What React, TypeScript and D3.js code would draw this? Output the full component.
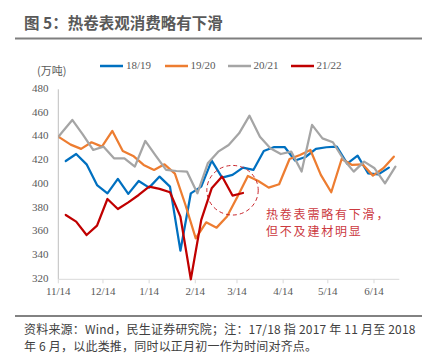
import React from "react";
import * as d3 from "d3";

const seriesNames = ["18/19", "19/20", "20/21", "21/22"];
const seriesColors = ["#0070c0", "#ed7d31", "#a5a5a5", "#c00000"];
// start offset (days after 11/14) of each series' first weekly point
const seriesStartDays = [5, -5.7, -4.6, 5];

const values1819 = [419.6, 425.5, 416.8, 399.4, 392.4, 404.5, 391.9, 402.8, 397.2, 406.5, 398.0, 344.1, 392.4, 398.0, 419.9, 405.6, 407.9, 414.0, 412.1, 428.1, 431.4, 431.4, 420.0, 423.0, 429.8, 431.2, 431.7, 417.4, 424.1, 409.3, 408.4, 414.0];
const values1920 = [445.9, 439.1, 433.4, 429.8, 435.4, 431.7, 444.9, 428.1, 423.9, 416.3, 412.1, 416.8, 409.0, 383.0, 354.5, 368.0, 363.5, 372.8, 389.6, 407.0, 402.8, 397.2, 400.0, 421.3, 424.7, 428.9, 407.9, 393.3, 421.3, 416.3, 416.8, 407.3, 413.5, 423.3];
const values2021 = [433.1, 443.6, 454.2, 442.1, 428.9, 431.7, 421.9, 421.9, 414.9, 436.5, 424.1, 412.1, 411.2, 410.7, 392.4, 417.7, 427.5, 433.1, 442.9, 457.8, 440.1, 430.3, 425.5, 427.5, 410.7, 450.0, 438.7, 435.4, 421.3, 410.7, 419.1, 413.5, 400.8, 414.9];
const values2122 = [374.2, 368.6, 357.3, 365.2, 387.6, 379.2, 384.8, 391.0, 398.0, 396.1, 393.3, 372.8, 320.0, 370.0, 396.6, 406.5, 390.5, 392.7];
const seriesValues = [values1819, values1920, values2021, values2122];

const yTicks = [320, 340, 360, 380, 400, 420, 440, 460, 480];
const xTickLabels = ["11/14", "12/14", "1/14", "2/14", "3/14", "4/14", "5/14", "6/14"];
const xTickDates = ["2021-11-14", "2021-12-14", "2022-01-14", "2022-02-14", "2022-03-14", "2022-04-14", "2022-05-14", "2022-06-14"];

const titleText = "图 5：热卷表观消费略有下滑";
const unitText = "(万吨)";
const noteLines = ["热卷表需略有下滑，", "但不及建材明显"];
const noteCenter = { day: 117, value: 395 };
const sourceLines = [
  "资料来源：Wind，民生证券研究院；注：17/18 指 2017 年 11 月至 2018",
  "年 6 月，以此类推，同时以正月初一作为时间对齐点。",
];

const baseDate = new Date(Date.UTC(2021, 10, 14));
const endDate = new Date(Date.UTC(2022, 6, 1));
const dayMs = 864e5;

export default function App() {
  const left = 58.3, right = 399.3, top = 89.3, bottom = 279.3;
  const x = d3.scaleUtc().domain([baseDate, endDate]).range([left, right]);
  const y = d3.scaleLinear().domain([320, 480]).range([bottom, top]);
  const dayToDate = (d: number) => new Date(baseDate.getTime() + d * dayMs);

  const line = d3
    .line<[number, number]>()
    .x((p) => x(dayToDate(p[0])))
    .y((p) => y(p[1]));

  const serif = "'Liberation Serif', 'Times New Roman', serif";
  const cjk = "'Noto Sans CJK SC', 'Noto Sans', sans-serif";

  const legendItems = [
    { x0: 100, tx: 126 },
    { x0: 165, tx: 190.5 },
    { x0: 228, tx: 253.5 },
    { x0: 291, tx: 316.5 },
  ];

  const ncx = x(dayToDate(noteCenter.day));
  const ncy = y(noteCenter.value);

  return (
    <svg
      width={444}
      height={357}
      style={{ position: "absolute", left: 0, top: 0, background: "#fff" }}
    >
      <defs>
        <clipPath id="plotClip">
          <rect x={left} y={top - 20} width={right - left + 5} height={bottom - top + 25} />
        </clipPath>
      </defs>
      <rect x={0} y={0} width={444} height={357} fill="#fff" />

      {/* title */}
      <text x={24} y={25} dominantBaseline="middle" fontFamily={cjk} fontSize={15.5} fontWeight="bold" fill="#595959">
        {titleText}
      </text>
      <line x1={15} x2={422} y1={38.5} y2={38.5} stroke="#7f7f7f" strokeWidth={2} />

      {/* unit */}
      <text x={37} y={72} dominantBaseline="middle" fontFamily={cjk} fontSize={11} fill="#595959">
        {unitText}
      </text>

      {/* legend */}
      {seriesNames.map((name, i) => (
        <g key={name}>
          <line x1={legendItems[i].x0} x2={legendItems[i].x0 + 23} y1={66} y2={66} stroke={seriesColors[i]} strokeWidth={2.5} />
          <text x={legendItems[i].tx} y={66} dominantBaseline="middle" fontFamily={serif} fontSize={11} fill="#595959">
            {name}
          </text>
        </g>
      ))}

      {/* y axis */}
      <line x1={left} x2={left} y1={top} y2={bottom} stroke="#bfbfbf" strokeWidth={1} />
      {yTicks.map((t) => (
        <text key={t} x={48.5} y={y(t)} textAnchor="end" dominantBaseline="middle" fontFamily={serif} fontSize={11} fill="#595959">
          {t}
        </text>
      ))}

      {/* x axis */}
      <line x1={left} x2={right} y1={bottom} y2={bottom} stroke="#d9d9d9" strokeWidth={1} />
      {xTickDates.map((ds, i) => {
        const xx = x(new Date(ds + "T00:00:00Z"));
        return (
          <g key={ds}>
            <line x1={xx} x2={xx} y1={bottom} y2={bottom + 4} stroke="#d9d9d9" strokeWidth={1} />
            <text x={xx} y={292} textAnchor="middle" dominantBaseline="middle" fontFamily={serif} fontSize={11} fill="#595959">
              {xTickLabels[i]}
            </text>
          </g>
        );
      })}

      {/* series */}
      <g clipPath="url(#plotClip)">
        {seriesValues.map((vals, i) => {
          const pts: [number, number][] = vals.map((v, k) => [seriesStartDays[i] + 7 * k, v]);
          return (
            <path
              key={seriesNames[i]}
              d={line(pts) || ""}
              fill="none"
              stroke={seriesColors[i]}
              strokeWidth={2.25}
              strokeLinejoin="round"
              strokeLinecap="round"
            />
          );
        })}
      </g>

      {/* annotation */}
      <ellipse cx={ncx} cy={ncy} rx={25.7} ry={24.8} fill="none" stroke="#c9262c" strokeWidth={1} strokeDasharray="4 3" />
      {noteLines.map((t, i) => (
        <text key={i} x={266} y={216 + i * 17} dominantBaseline="middle" fontFamily={cjk} fontSize={12} letterSpacing={1.8} fill="#cc3a3f">
          {t}
        </text>
      ))}

      {/* source */}
      <line x1={15} x2={422} y1={316} y2={316} stroke="#595959" strokeWidth={1.5} />
      {sourceLines.map((t, i) => (
        <text key={i} x={24} y={331 + i * 17} dominantBaseline="middle" fontFamily={cjk} fontSize={12} letterSpacing={0.2} fill="#404040">
          {t}
        </text>
      ))}
    </svg>
  );
}
